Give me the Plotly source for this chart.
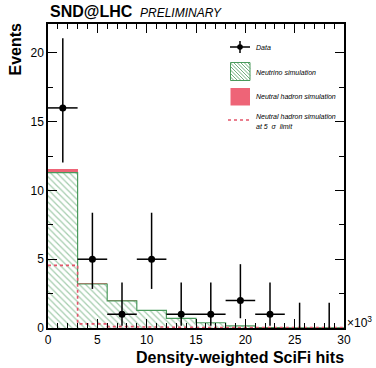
import plotly.graph_objects as go

# ---------------- data ----------------
bin_edges = [0, 3, 6, 9, 12, 15, 18, 21, 24, 27, 30]          # x 10^3
bin_centers = [1.5, 4.5, 7.5, 10.5, 13.5, 16.5, 19.5, 22.5, 25.5, 28.5]
data_counts = [16, 5, 1, 5, 1, 1, 2, 1, 0, 0]
data_err_up = [5.06, 3.38, 2.30, 3.38, 2.30, 2.30, 2.64, 2.30, 1.84, 1.84]
data_err_dn = [3.96, 2.16, 0.83, 2.16, 0.83, 0.83, 1.29, 0.83, 0.0, 0.0]
neutrino_sim = [11.3, 3.2, 1.97, 1.28, 0.7, 0.38, 0.15, 0.03, 0.01, 0.01]
hadron_sim = [0.23, 0.02, 0.01, 0.01, 0.0, 0.0, 0.0, 0.0, 0.0, 0.0]
hadron_5sigma = [4.55, 0.3, 0.1, 0.07, 0.05, 0.04, 0.04, 0.03, 0.03, 0.03]
x_ticks = [0, 5, 10, 15, 20, 25, 30]
y_ticks = [0, 5, 10, 15, 20]

GREEN = "#4a9a5c"
PINK = "#ee6477"
RED_DOT = "#e4546a"
FONT = "Liberation Sans, Arial, Helvetica, sans-serif"

widths = [bin_edges[i + 1] - bin_edges[i] for i in range(len(bin_centers))]

fig = go.Figure()

# Neutrino simulation (hatched)
fig.add_trace(go.Bar(
    x=bin_centers, y=neutrino_sim, width=widths,
    marker=dict(color="white",
                pattern=dict(shape="\\", fgcolor=GREEN, bgcolor="white", size=4.5, solidity=0.28),
                line=dict(width=0)),
    showlegend=False, hoverinfo="skip"))
# Neutral hadron simulation (stacked)
fig.add_trace(go.Bar(
    x=bin_centers, y=hadron_sim, width=widths,
    marker=dict(color=PINK, line=dict(width=0)),
    showlegend=False, hoverinfo="skip"))

# outline of neutrino histogram
fig.add_trace(go.Scatter(
    x=bin_edges, y=neutrino_sim + [neutrino_sim[-1]], mode="lines",
    line=dict(color=GREEN, width=1.2, shape="hv"),
    showlegend=False, hoverinfo="skip"))

# neutral hadron at 5 sigma (dotted)
fig.add_trace(go.Scatter(
    x=bin_edges, y=hadron_5sigma + [hadron_5sigma[-1]], mode="lines",
    line=dict(color=RED_DOT, width=1.6, shape="hv", dash="dot"),
    showlegend=False, hoverinfo="skip"))

# Data with non-zero counts
nz = [i for i, c in enumerate(data_counts) if c > 0]
z = [i for i, c in enumerate(data_counts) if c == 0]
fig.add_trace(go.Scatter(
    x=[bin_centers[i] for i in nz], y=[data_counts[i] for i in nz], mode="markers",
    marker=dict(color="black", size=7),
    error_x=dict(type="data", array=[widths[i] / 2 for i in nz], color="black", thickness=1.5, width=0),
    error_y=dict(type="data", symmetric=False, array=[data_err_up[i] for i in nz],
                 arrayminus=[data_err_dn[i] for i in nz], color="black", thickness=1.5, width=0),
    showlegend=False, hoverinfo="skip"))
# zero-count bins: upper error only
fig.add_trace(go.Scatter(
    x=[bin_centers[i] for i in z], y=[data_counts[i] for i in z], mode="markers",
    marker=dict(color="black", size=1, opacity=0),
    error_y=dict(type="data", symmetric=False, array=[data_err_up[i] for i in z],
                 arrayminus=[0 for i in z], color="black", thickness=1.5, width=0),
    showlegend=False, hoverinfo="skip"))

# ---------------- layout ----------------
L, R, T, B = 48, 32, 24, 40
W, H = 376, 368
PW, PH = W - L - R, H - T - B


def px(xp):
    return (xp - L) / PW


def py(yp):
    return (H - B - yp) / PH


shapes = []
annotations = []

# legend: Data
shapes.append(dict(type="line", xref="paper", yref="paper", x0=px(230), x1=px(250), y0=py(47), y1=py(47),
                   line=dict(color="black", width=1.5)))
shapes.append(dict(type="line", xref="paper", yref="paper", x0=px(240), x1=px(240), y0=py(41), y1=py(53),
                   line=dict(color="black", width=1.5)))
shapes.append(dict(type="circle", xref="paper", yref="paper", x0=px(237.2), x1=px(242.8), y0=py(44.2), y1=py(49.8),
                   fillcolor="black", line=dict(color="black", width=0)))
# legend: neutrino box with hatch
bx0, bx1, by0, by1 = 230.5, 250, 62.5, 80.5
step = 3.5
c = bx0 - (by1 - by0)
while c < bx1:
    xa, ya = c, by0
    xb, yb = c + (by1 - by0), by1
    if xa < bx0:
        ya = by0 + (bx0 - xa)
        xa = bx0
    if xb > bx1:
        yb = by1 - (xb - bx1)
        xb = bx1
    if xb > xa:
        shapes.append(dict(type="line", xref="paper", yref="paper", x0=px(xa), x1=px(xb), y0=py(ya), y1=py(yb),
                           line=dict(color=GREEN, width=0.8)))
    c += step
shapes.append(dict(type="rect", xref="paper", yref="paper", x0=px(bx0), x1=px(bx1), y0=py(by0), y1=py(by1),
                   line=dict(color=GREEN, width=1)))
# legend: neutral hadron box
shapes.append(dict(type="rect", xref="paper", yref="paper", x0=px(230.5), x1=px(250), y0=py(88), y1=py(105.5),
                   fillcolor=PINK, line=dict(color=PINK, width=0)))
# legend: dotted line
shapes.append(dict(type="line", xref="paper", yref="paper", x0=px(228), x1=px(250), y0=py(120), y1=py(120),
                   line=dict(color=RED_DOT, width=1.6, dash="dot")))

leg_font = dict(family=FONT, size=7, color="black")
for txt, yy in [("<i>Data</i>", 47), ("<i>Neutrino simulation</i>", 72),
                ("<i>Neutral hadron simulation</i>", 96.5),
                ("<i>Neutral hadron simulation</i>", 116), ("<i>at 5  σ  limit</i>", 126)]:
    annotations.append(dict(text=txt, xref="paper", yref="paper", x=px(254), y=py(yy),
                            xanchor="left", yanchor="middle", showarrow=False, font=leg_font))

# titles
annotations.append(dict(text="<b>SND@LHC</b>", xref="paper", yref="paper", x=0, y=py(12),
                        xanchor="left", yanchor="middle", showarrow=False,
                        font=dict(family=FONT, size=16, color="black")))
annotations.append(dict(text="<i>PRELIMINARY</i>", xref="paper", yref="paper", x=px(138), y=py(13),
                        xanchor="left", yanchor="middle", showarrow=False,
                        font=dict(family=FONT, size=12, color="black")))
annotations.append(dict(text="<b>Density-weighted SciFi hits</b>", xref="paper", yref="paper", x=px(346), y=py(357),
                        xanchor="right", yanchor="middle", showarrow=False,
                        font=dict(family=FONT, size=16, color="black")))
annotations.append(dict(text="<b>Events</b>", xref="paper", yref="paper", x=px(15), y=py(21),
                        xanchor="center", yanchor="top", textangle=-90, showarrow=False,
                        font=dict(family=FONT, size=16, color="black")))
annotations.append(dict(text="×10<sup>3</sup>", xref="paper", yref="paper", x=px(345), y=py(322),
                        xanchor="left", yanchor="middle", showarrow=False,
                        font=dict(family=FONT, size=12, color="black")))

axis_common = dict(showline=True, linecolor="black", linewidth=1.5, mirror="ticks", ticks="inside",
                   tickcolor="black", showgrid=False, zeroline=False,
                   tickfont=dict(family=FONT, size=12, color="black"))

fig.update_layout(
    width=W, height=H, margin=dict(l=L, r=R, t=T, b=B),
    paper_bgcolor="white", plot_bgcolor="white",
    barmode="stack", bargap=0,
    shapes=shapes, annotations=annotations,
    xaxis=dict(range=[0, 30], tickvals=x_ticks, ticklen=9, tickwidth=1,
               minor=dict(dtick=1, ticklen=5, ticks="inside", tickcolor="black", tickwidth=1),
               **axis_common),
    yaxis=dict(range=[0, 22.1], tickvals=y_ticks, ticklen=9, tickwidth=1,
               minor=dict(dtick=2.5, ticklen=5, ticks="inside", tickcolor="black", tickwidth=1),
               **axis_common),
)

fig.write_html("out.html", config={"displayModeBar": False},
               post_script="document.body.style.margin='0';document.body.style.padding='0';"
                           "document.body.style.overflow='hidden';")
